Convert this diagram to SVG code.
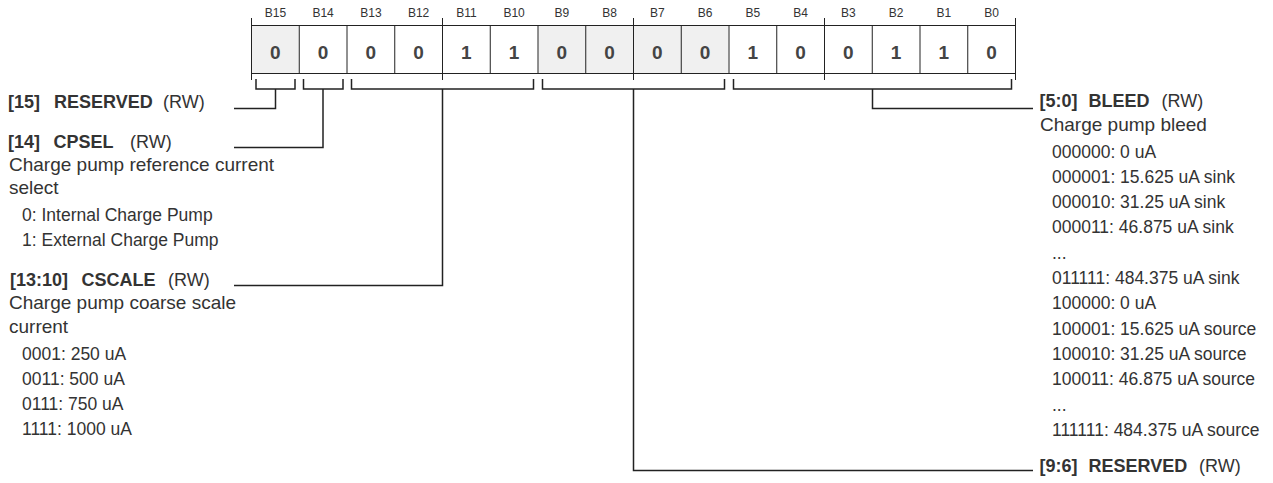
<svg xmlns="http://www.w3.org/2000/svg" width="1273" height="483" viewBox="0 0 1273 483">
<style>
text{font-family:"Liberation Sans",Arial,sans-serif;fill:#333}
.bl{font-size:12px;text-anchor:middle}
.v{font-size:19px;font-weight:bold;text-anchor:middle;fill:#444}
.h{font-size:18px;font-weight:bold}
.rw{font-size:18px}
.d{font-size:19px}
.l{font-size:17.5px}
.cell{fill:#fff;stroke:#222;stroke-width:1}
.res{fill:#f0f0f0}
.tick{stroke:#222;stroke-width:1}
.br{fill:none;stroke:#222;stroke-width:1.5}
.conn{fill:none;stroke:#222;stroke-width:1.5}
</style>
<g id="register">
<rect class="cell" x="251.5" y="25.5" width="764" height="48"/>
<rect class="res" x="252" y="26" width="46.75" height="47"/>
<rect class="res" x="538.5" y="26" width="190" height="47"/>
<g class="tick">
<line x1="251.5" y1="18" x2="251.5" y2="80"/>
<line x1="299.25" y1="25.5" x2="299.25" y2="73.5"/>
<line x1="347" y1="25.5" x2="347" y2="73.5"/>
<line x1="394.75" y1="25.5" x2="394.75" y2="73.5"/>
<line x1="442.5" y1="18" x2="442.5" y2="80"/>
<line x1="490.25" y1="25.5" x2="490.25" y2="73.5"/>
<line x1="538" y1="25.5" x2="538" y2="73.5"/>
<line x1="585.75" y1="25.5" x2="585.75" y2="73.5"/>
<line x1="633.5" y1="18" x2="633.5" y2="80"/>
<line x1="681.25" y1="25.5" x2="681.25" y2="73.5"/>
<line x1="729" y1="25.5" x2="729" y2="73.5"/>
<line x1="776.75" y1="25.5" x2="776.75" y2="73.5"/>
<line x1="824.5" y1="18" x2="824.5" y2="80"/>
<line x1="872.25" y1="25.5" x2="872.25" y2="73.5"/>
<line x1="920" y1="25.5" x2="920" y2="73.5"/>
<line x1="967.75" y1="25.5" x2="967.75" y2="73.5"/>
<line x1="1015.5" y1="18" x2="1015.5" y2="80"/>
<line x1="251.5" y1="25.5" x2="1015.5" y2="25.5"/>
<line x1="251.5" y1="73.5" x2="1015.5" y2="73.5"/>
</g>
<g id="bit-labels">
<text class="bl" x="275.4" y="16.5">B15</text>
<text class="bl" x="323.1" y="16.5">B14</text>
<text class="bl" x="370.9" y="16.5">B13</text>
<text class="bl" x="418.6" y="16.5">B12</text>
<text class="bl" x="466.4" y="16.5">B11</text>
<text class="bl" x="514.1" y="16.5">B10</text>
<text class="bl" x="561.9" y="16.5">B9</text>
<text class="bl" x="609.6" y="16.5">B8</text>
<text class="bl" x="657.4" y="16.5">B7</text>
<text class="bl" x="705.1" y="16.5">B6</text>
<text class="bl" x="752.9" y="16.5">B5</text>
<text class="bl" x="800.6" y="16.5">B4</text>
<text class="bl" x="848.4" y="16.5">B3</text>
<text class="bl" x="896.1" y="16.5">B2</text>
<text class="bl" x="943.9" y="16.5">B1</text>
<text class="bl" x="991.6" y="16.5">B0</text>
</g>
<g id="bit-values">
<text class="v" x="275.4" y="59">0</text>
<text class="v" x="323.1" y="59">0</text>
<text class="v" x="370.9" y="59">0</text>
<text class="v" x="418.6" y="59">0</text>
<text class="v" x="466.4" y="59">1</text>
<text class="v" x="514.1" y="59">1</text>
<text class="v" x="561.9" y="59">0</text>
<text class="v" x="609.6" y="59">0</text>
<text class="v" x="657.4" y="59">0</text>
<text class="v" x="705.1" y="59">0</text>
<text class="v" x="752.9" y="59">1</text>
<text class="v" x="800.6" y="59">0</text>
<text class="v" x="848.4" y="59">0</text>
<text class="v" x="896.1" y="59">1</text>
<text class="v" x="943.9" y="59">1</text>
<text class="v" x="991.6" y="59">0</text>
</g>
<g id="brackets">
<path class="br" d="M256,79V89H295V79"/>
<path class="br" d="M303.5,79V89H343V79"/>
<path class="br" d="M351.5,79V89H533.5V79"/>
<path class="br" d="M542.5,79V89H724.5V79"/>
<path class="br" d="M733.5,79V89H1011.5V79"/>
</g>
</g>
<g id="connectors">
<path class="conn" d="M275.5,89V108.5H234"/>
<path class="conn" d="M323,89V147.5H234"/>
<path class="conn" d="M442.5,89V285.5H234"/>
<path class="conn" d="M633.5,89V470.5H1033"/>
<path class="conn" d="M872.5,89V108.5H1033"/>
</g>
<g id="field-15">
<text class="h" x="8" y="107.5">[15]</text>
<text class="h" x="54" y="107.5">RESERVED</text>
<text class="rw" x="163" y="107.5">(RW)</text>
</g>
<g id="field-14">
<text class="h" x="8" y="148">[14]</text>
<text class="h" x="53.5" y="148">CPSEL</text>
<text class="rw" x="130" y="148">(RW)</text>
<text class="d" x="9" y="170.5">Charge pump reference current</text>
<text class="d" x="9" y="194">select</text>
<text class="l" x="22" y="221">0: Internal Charge Pump</text>
<text class="l" x="22" y="246">1: External Charge Pump</text>
</g>
<g id="field-13-10">
<text class="h" x="10" y="286">[13:10]</text>
<text class="h" x="81.5" y="286">CSCALE</text>
<text class="rw" x="168" y="286">(RW)</text>
<text class="d" x="9" y="309">Charge pump coarse scale</text>
<text class="d" x="9" y="332.5">current</text>
<text class="l" x="22" y="360">0001: 250 uA</text>
<text class="l" x="22" y="385">0011: 500 uA</text>
<text class="l" x="22" y="410">0111: 750 uA</text>
<text class="l" x="22" y="435">1111: 1000 uA</text>
</g>
<g id="field-5-0">
<text class="h" x="1039.5" y="107">[5:0]</text>
<text class="h" x="1088.5" y="107">BLEED</text>
<text class="rw" x="1161.5" y="107">(RW)</text>
<text class="d" x="1040" y="131">Charge pump bleed</text>
<text class="l" x="1052" y="157.5">000000: 0 uA</text>
<text class="l" x="1052" y="182.8">000001: 15.625 uA sink</text>
<text class="l" x="1052" y="208.1">000010: 31.25 uA sink</text>
<text class="l" x="1052" y="233.4">000011: 46.875 uA sink</text>
<text class="l" x="1052" y="258.7">...</text>
<text class="l" x="1052" y="284">011111: 484.375 uA sink</text>
<text class="l" x="1052" y="309.3">100000: 0 uA</text>
<text class="l" x="1052" y="334.6">100001: 15.625 uA source</text>
<text class="l" x="1052" y="359.9">100010: 31.25 uA source</text>
<text class="l" x="1052" y="385.2">100011: 46.875 uA source</text>
<text class="l" x="1052" y="410.5">...</text>
<text class="l" x="1052" y="435.8">111111: 484.375 uA source</text>
</g>
<g id="field-9-6">
<text class="h" x="1039.5" y="472">[9:6]</text>
<text class="h" x="1088.5" y="472">RESERVED</text>
<text class="rw" x="1199" y="472">(RW)</text>
</g>
</svg>
